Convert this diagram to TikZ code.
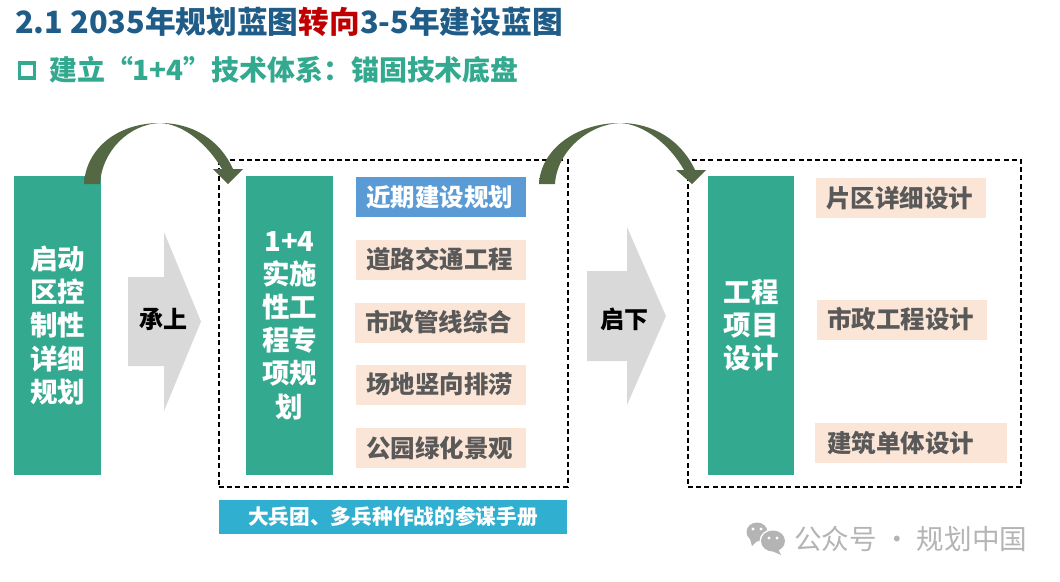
\documentclass[tikz,border=0pt]{standalone}
\usepackage{fontspec}
\setmainfont{Noto Sans CJK SC}
\usetikzlibrary{arrows.meta, calc, positioning, shapes}
\definecolor{titleblue}{HTML}{1F5C87}
\definecolor{mygreen}{HTML}{33A98F}
\definecolor{myblue}{HTML}{5B9BD5}
\definecolor{mypeach}{HTML}{FBE5D6}
\definecolor{mygray}{HTML}{D9D9D9}
\definecolor{mytext}{HTML}{595959}
\definecolor{mycyan}{HTML}{31AFD0}
\definecolor{markgray}{HTML}{B4B4B4}
\pgfdeclarehorizontalshading{bendshade}{100bp}{color(0bp)=(rgb:red,134;green,168;blue,108); color(25bp)=(rgb:red,134;green,168;blue,108); color(46bp)=(rgb:red,140;green,174;blue,112); color(54bp)=(rgb:red,165;green,205;blue,138); color(75bp)=(rgb:red,169;green,209;blue,142); color(100bp)=(rgb:red,169;green,209;blue,142)}
\newcommand{\fs}[1]{\fontsize{#1}{#1}\selectfont\bfseries}
\begin{document}
\begin{tikzpicture}[x=1pt, y=-1pt,% styles used in image code
column/.style = {fill=mygreen, text=white, minimum width=87pt, minimum height=299pt,
                 inner sep=0pt, align=center, font=\fontsize{27.5}{33.2}\selectfont\bfseries},
item/.style = {fill=mypeach, text=mytext, minimum width=170pt, minimum height=40pt,
               inner sep=0pt, font=\fs{24.5}},
frame/.style = {draw, line width=1.4pt, dash pattern=on 5pt off 3.2pt,
                inner sep=0pt},
chevron/.style = {fill=mygray, draw=none},
bend arrow/.style = {shading=bendshade, draw=none}
                        ]
	\useasboundingbox (0,0) rectangle (1060,581);

	% heading
	\node (title) [anchor=west, inner sep=0pt, text=titleblue, font=\fs{30.7}] at (15,22)
		{2.1 2035年规划蓝图\textcolor[HTML]{C00000}{转向}3-5年建设蓝图};
	\node (mark) [draw=mygreen, line width=3.5pt, minimum size=15pt, inner sep=0pt] at (27,70.5) {};
	\node (subtitle) [anchor=west, inner sep=0pt, text=mygreen, font=\fs{27.9}] at (49,70)
		{建立“1+4”技术体系：锚固技术底盘};

	% dashed frames
	\node (frameA) [frame, minimum width=349pt, minimum height=327pt] at (393.5,323.5) {};
	\node (frameB) [frame, minimum width=333pt, minimum height=327pt] at (854.5,323.5) {};

	% green columns
	\node (start) [column] at (57.5,325.5) {\raisebox{-1pt}{启动}\\\raisebox{-1pt}{区控}\\\raisebox{-1pt}{制性}\\\raisebox{-1pt}{详细}\\\raisebox{-1pt}{规划}};
	\node (plan) [column] at (289.5,325.5) {\raisebox{-2pt}{1+4}\\\raisebox{-2pt}{实施}\\\raisebox{-2pt}{性工}\\\raisebox{-2pt}{程专}\\\raisebox{-2pt}{项规}\\\raisebox{-2pt}{划}};
	\node (design) [column, minimum width=86pt] at (751,325.5) {工程\\项目\\设计};

	% middle column
	\node (near) [item, fill=myblue, text=white] at (441,197) {\hspace{-3pt}近期建设规划};
	\node (road) [item] at (441,259.5) {\hspace{-3pt}道路交通工程};
	\node (pipe) [item] at (440,322.5) {\hspace{-3pt}市政管线综合};
	\node (site) [item] at (441,384.5) {\hspace{-3pt}场地竖向排涝};
	\node (park) [item] at (441,448) {\hspace{-3pt}公园绿化景观};

	% right column
	\node (area) [item] at (901,198) {\hspace{-3pt}片区详细设计};
	\node (muni) [item] at (902,319.5) {\hspace{-3pt}市政工程设计};
	\node (unit) [item, minimum width=192pt, text width=168pt, align=left] at (911,443) {建筑单体设计};

	% bottom bar
	\node (bar) [fill=mycyan, text=white, minimum width=348pt, minimum height=34pt,
		inner sep=0pt, font=\fs{20.7}] at (393,517) {大兵团、多兵种作战的参谋手册};

	% block arrows
	\path[chevron] (128,277) -- (164,277) -- (164,232) -- (201,321.5) -- (164,411) -- (164,366) -- (128,366) -- cycle;
	\path[chevron] (587,271) -- (627,271) -- (627,227) -- (666,316) -- (627,405) -- (627,361) -- (587,361) -- cycle;
	\node (up) [font=\fs{24}, inner sep=0pt] at (163,319) {承上};
	\node (down) [font=\fs{24}, inner sep=0pt] at (624,319) {启下};

	% curved arrows
	\path[bend arrow] (84,184) .. controls (86,148) and (118,123) .. (160,123)
		.. controls (193,123) and (220,140) .. (233,169) -- (243,169) -- (228,184)
		-- (213,169) -- (222,169) .. controls (208,145) and (184,124) .. (160,123)
		.. controls (130,124) and (102,150) .. (100,184) -- cycle;
	\path[bend arrow] (539,184) .. controls (541,148) and (578,123) .. (620,123)
		.. controls (653,123) and (681,140) .. (695,170) -- (706,170) -- (692,184)
		-- (676,170) -- (684,170) .. controls (670,145) and (644,124) .. (620,123)
		.. controls (590,124) and (557,150) .. (555,184) -- cycle;

	% watermark
	\fill[markgray] (757,532) ellipse (10.5 and 9.5);
	\fill[markgray] (750,539) -- (752,546) -- (757,541) -- cycle;
	\fill[white] (773,541) ellipse (13.5 and 12);
	\fill[markgray] (773,541) ellipse (12 and 10.5);
	\fill[markgray] (778,549) -- (781,555) -- (772,551) -- cycle;
	\fill[white] (753,529) circle (1.6) (761,529) circle (1.6) (769,538) circle (1.6) (777,538) circle (1.6);
	\node (brand) [anchor=west, inner sep=0pt, text=markgray, font=\fontsize{27.6}{27.6}\selectfont] at (794,539) {公众号 · 规划中国};
\end{tikzpicture}
\end{document}
